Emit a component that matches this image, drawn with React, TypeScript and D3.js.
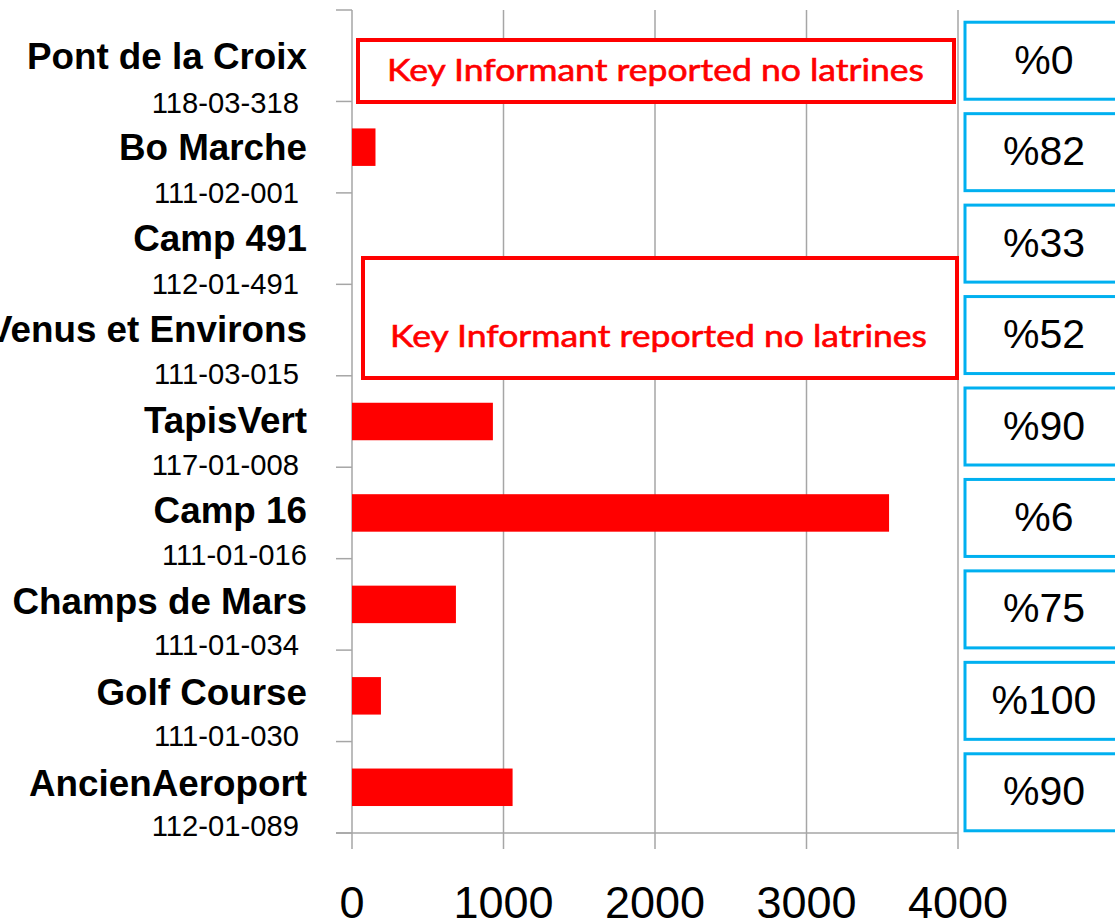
import React from "react";
import * as d3 from "d3";

// ---- data ----
const sites = [
  "Pont de la Croix",
  "Bo Marche",
  "Camp 491",
  "Venus et Environs",
  "TapisVert",
  "Camp 16",
  "Champs de Mars",
  "Golf Course",
  "AncienAeroport",
];
const codes = [
  "118-03-318\u00A0",
  "111-02-001\u00A0",
  "112-01-491\u00A0",
  "111-03-015\u00A0",
  "117-01-008\u00A0",
  "111-01-016",
  "111-01-034\u00A0",
  "111-01-030\u00A0",
  "112-01-089\u00A0",
];
const values = [0, 155, 0, 0, 930, 3545, 686, 191, 1060];
const percents = ["%0", "%82", "%33", "%52", "%90", "%6", "%75", "%100", "%90"];
const xTicks = [0, 1000, 2000, 3000, 4000];
const noteText = "Key Informant reported no latrines";

// ---- layout ----
const W = 1115;
const H = 922;
const X0 = 352;
const X1 = 958;
const Y0 = 10;
const Y1 = 833;

export default function App() {
  const x = d3.scaleLinear().domain([0, 4000]).range([X0, X1]);
  const y = d3.scaleBand<string>().domain(sites).range([Y0, Y1]).padding(0);
  const bw = y.bandwidth();
  const barH = bw * 0.41;
  const nameY = d3.scaleLinear().domain([0, sites.length - 1]).range([69, 796]);
  const codeY = d3.scaleLinear().domain([0, sites.length - 1]).range([113, 836]);
  const grid = "#a6a6a6";
  const boundaries = d3.range(sites.length + 1).map((i) => Y0 + i * bw);

  return (
    <svg
      width={W}
      height={H}
      style={{ position: "absolute", left: 0, top: 0, background: "#fff" }}
    >
      {/* gridlines */}
      {xTicks.slice(1).map((t) => (
        <line key={"g" + t} x1={x(t)} x2={x(t)} y1={Y0} y2={Y1} stroke={grid} strokeWidth={1.5} />
      ))}
      {/* axes */}
      <line x1={X0} x2={X0} y1={Y0} y2={Y1} stroke={grid} strokeWidth={1.5} />
      <line x1={336} x2={X1} y1={Y1} y2={Y1} stroke={grid} strokeWidth={1.5} />
      {boundaries.map((b, i) => (
        <line key={"yt" + i} x1={336} x2={X0} y1={b} y2={b} stroke={grid} strokeWidth={1.5} />
      ))}
      {xTicks.map((t) => (
        <line key={"xt" + t} x1={x(t)} x2={x(t)} y1={Y1} y2={Y1 + 16} stroke={grid} strokeWidth={1.5} />
      ))}
      {xTicks.map((t) => (
        <text
          key={"xl" + t}
          x={x(t)}
          y={918}
          textAnchor="middle"
          fontFamily="Liberation Sans, Arial, sans-serif"
          fontSize={45}
          fill="#000"
        >
          {t}
        </text>
      ))}
      {/* bars */}
      {sites.map((s, i) => (
        <rect
          key={"b" + s}
          x={x(0)}
          y={(y(s) as number) + bw / 2 - barH / 2}
          width={x(values[i]) - x(0)}
          height={barH}
          fill="#ff0000"
        />
      ))}
      {/* category labels */}
      {sites.map((s, i) => (
        <g key={"l" + s}>
          <text
            x={307}
            y={nameY(i)}
            textAnchor="end"
            fontFamily="Liberation Sans, Arial, sans-serif"
            fontWeight="bold"
            fontSize={36.8}
            fill="#000"
          >
            {s}
          </text>
          <text
            x={307}
            y={codeY(i)}
            textAnchor="end"
            fontFamily="Liberation Sans, Arial, sans-serif"
            fontSize={29.2}
            fill="#000"
          >
            {codes[i]}
          </text>
        </g>
      ))}
      {/* percent boxes */}
      {sites.map((s, i) => {
        const c = (y(s) as number) + bw / 2 + 5;
        return (
          <g key={"p" + s}>
            <rect x={965} y={c - 38.5} width={170} height={77} fill="#fff" stroke="#00b0f0" strokeWidth={3} />
            <text
              x={1044}
              y={c + 13}
              textAnchor="middle"
              fontFamily="Liberation Sans, Arial, sans-serif"
              fontSize={41}
              fill="#000"
            >
              {percents[i]}
            </text>
          </g>
        );
      })}
      {/* annotation boxes */}
      <rect x={358} y={40} width={596} height={62} fill="#fff" stroke="#ff0000" strokeWidth={4} />
      <text
        x={655.5}
        y={81}
        textAnchor="middle"
        fontFamily="Lato, 'Open Sans', sans-serif"
        fontSize={30}
        fill="#ff0000"
        stroke="#ff0000"
        strokeWidth={0.6}
        textLength={537}
        lengthAdjust="spacingAndGlyphs"
      >
        {noteText}
      </text>
      <rect x={363} y={258} width={594} height={120} fill="#fff" stroke="#ff0000" strokeWidth={4} />
      <text
        x={658.5}
        y={347}
        textAnchor="middle"
        fontFamily="Lato, 'Open Sans', sans-serif"
        fontSize={30}
        fill="#ff0000"
        stroke="#ff0000"
        strokeWidth={0.6}
        textLength={537}
        lengthAdjust="spacingAndGlyphs"
      >
        {noteText}
      </text>
    </svg>
  );
}
